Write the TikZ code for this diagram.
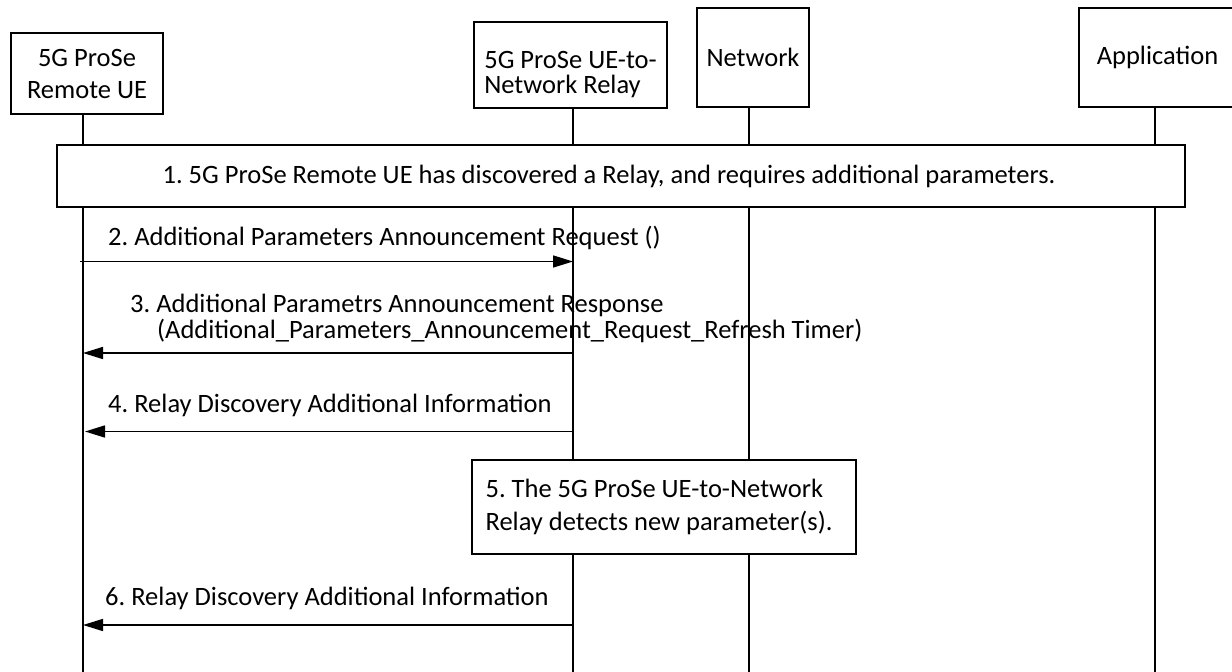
\documentclass[tikz,border=0pt]{standalone}
\usepackage{fontspec}
\setmainfont{Carlito}
\usetikzlibrary{arrows.meta,positioning}
\AtBeginDocument{\frenchspacing}
\begin{document}
\begin{tikzpicture}[
        x=1pt, y=-1pt,
        font=\fontsize{26.5}{32}\selectfont,
        entity/.style={
            draw,
            line width=1.6pt,
            fill=white,
            inner sep=0pt,
            align=center
        },
        stepbox/.style={
            draw,
            line width=1.6pt,
            fill=white,
            inner sep=0pt
        },
        lifeline/.style={line width=1.6pt},
        msg/.style={-{Triangle[length=20pt,width=12pt]}, line width=1.6pt},
        msglabel/.style={anchor=base west, inner sep=0pt, align=left}
    ]
        \useasboundingbox (0,0) rectangle (1232,672);

        % Teilnehmer
        \node[entity, minimum width=152pt, minimum height=81pt] (remote) at (87,73.5) {5G ProSe\\Remote UE};
        \node[entity, minimum width=193pt, minimum height=86pt, align=left, font=\fontsize{26.5}{25}\selectfont] (relay) at (570.5,65)
            {\rule{0pt}{37pt}5G ProSe UE-to-\\Network Relay};
        \node[entity, minimum width=112pt, minimum height=99pt] (network) at (753,57.5) {Network};
        \node[entity, minimum width=157pt, minimum height=99pt] (app) at (1157.5,57.5) {Application};

        % Lebenslinien
        \foreach \name/\x in {remote/83, relay/573, network/749, app/1155} {
            \coordinate (ll-\name) at (\x,672);
            \draw[lifeline] (ll-\name |- \name.south) -- (ll-\name);
        }

        % Schritte
        \node[stepbox, minimum width=1128pt, minimum height=62pt] (step1) at (621,176)
            {1. 5G ProSe Remote UE has discovered a Relay, and requires additional parameters.\hspace*{24pt}};
        \node[stepbox, minimum width=384pt, minimum height=94pt, align=left, font=\fontsize{26.5}{33}\selectfont] (step5) at (664,507)
            {5. The 5G ProSe UE-to-Network\\Relay detects new parameter(s).\hspace*{10pt}};

        % Nachrichten
        \coordinate (m2) at (0,261.5);
        \coordinate (m3) at (0,353);
        \coordinate (m4) at (0,431.5);
        \coordinate (m6) at (0,625);

        \draw[msg] ([xshift=-3pt]ll-remote |- m2) -- (ll-relay |- m2);
        \draw[msg] (ll-relay |- m3) -- (ll-remote |- m3);
        \draw[msg] (ll-relay |- m4) -- ([xshift=2pt]ll-remote |- m4);
        \draw[msg] (ll-relay |- m6) -- (ll-remote |- m6);

        \node[msglabel] (lbl2) at (108,245) {2. Additional Parameters Announcement Request ()};
        \node[msglabel, font=\fontsize{26.5}{26}\selectfont] (lbl3) at (130,338)
            {3. Additional Parametrs Announcement Response\\\hspace*{27pt}(Additional\_Parameters\_Announcement\_Request\_Refresh Timer)};
        \node[msglabel] (lbl4) at (108,412) {4. Relay Discovery Additional Information};
        \node[msglabel] (lbl6) at (105,605) {6. Relay Discovery Additional Information};
    \end{tikzpicture}
\end{document}
